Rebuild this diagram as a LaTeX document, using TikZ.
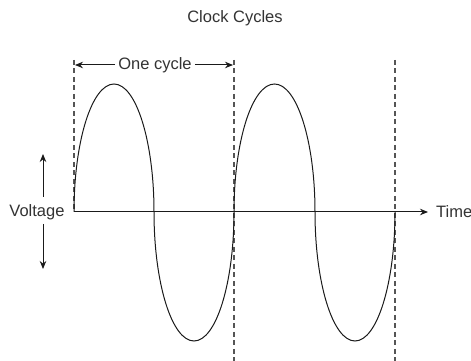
\documentclass[tikz,border=0pt]{standalone}
\usepackage{fontspec}
\setmainfont{Liberation Sans}
\usepackage{xcolor}
\usepackage{tikz}
\usetikzlibrary{positioning,arrows.meta}
\definecolor{CCLine}{HTML}{1A1A1A}
\definecolor{CCDash}{HTML}{555555}
\definecolor{CCText}{HTML}{333333}

\begin{document}
\begin{tikzpicture}[x=1pt,y=1pt,
  lbl/.style={text=CCText,font=\fontsize{16.5}{19}\selectfont,inner sep=3pt},
  guide/.style={CCDash,line width=1.3pt,dash pattern=on 5pt off 3.5pt},
  wave/.style={CCLine,line width=1pt},
  pointer/.style={CCLine,line width=1pt,-{Stealth[length=8pt,width=6.5pt]}}]
\useasboundingbox (0,0) rectangle (471,361);
\node[lbl] (title) at (235,343) {Clock Cycles};
% guide lines
\coordinate (g0top) at (74,301);  \coordinate (g0bot) at (74,149);
\coordinate (g1top) at (234,301); \coordinate (g1bot) at (234,0);
\coordinate (g2top) at (395,301); \coordinate (g2bot) at (395,0);
\foreach \g in {g0,g1,g2} {
  \draw[guide] (\g top) -- (\g bot);
}
% axis
\coordinate (axisEnd) at (428,149);
\node[lbl,anchor=west,inner sep=0pt] (time) at (436,149) {Time};
\draw[pointer] (g0bot) -- (axisEnd);
% wave
\draw[wave] (g0bot) arc[start angle=180,end angle=0,x radius=40,y radius=128]
  arc[start angle=180,end angle=360,x radius=40,y radius=129]
  arc[start angle=180,end angle=0,x radius=40.5,y radius=128]
  arc[start angle=180,end angle=360,x radius=40,y radius=129];
% one cycle
\node[lbl] (cycle) at (155,296) {One cycle};
\coordinate (cycL) at (75,296);
\coordinate (cycR) at (233,296);
\draw[pointer] (cycle.west) -- (cycL);
\draw[pointer] (cycle.east) -- (cycR);
% voltage
\node[lbl] (volt) at (37,149) {Voltage};
\coordinate (voltUpS) at (43,164); \coordinate (voltUp) at (43,207);
\coordinate (voltDnS) at (43,137); \coordinate (voltDn) at (43,92);
\draw[pointer] (voltUpS) -- (voltUp);
\draw[pointer] (voltDnS) -- (voltDn);
\end{tikzpicture}
\end{document}
